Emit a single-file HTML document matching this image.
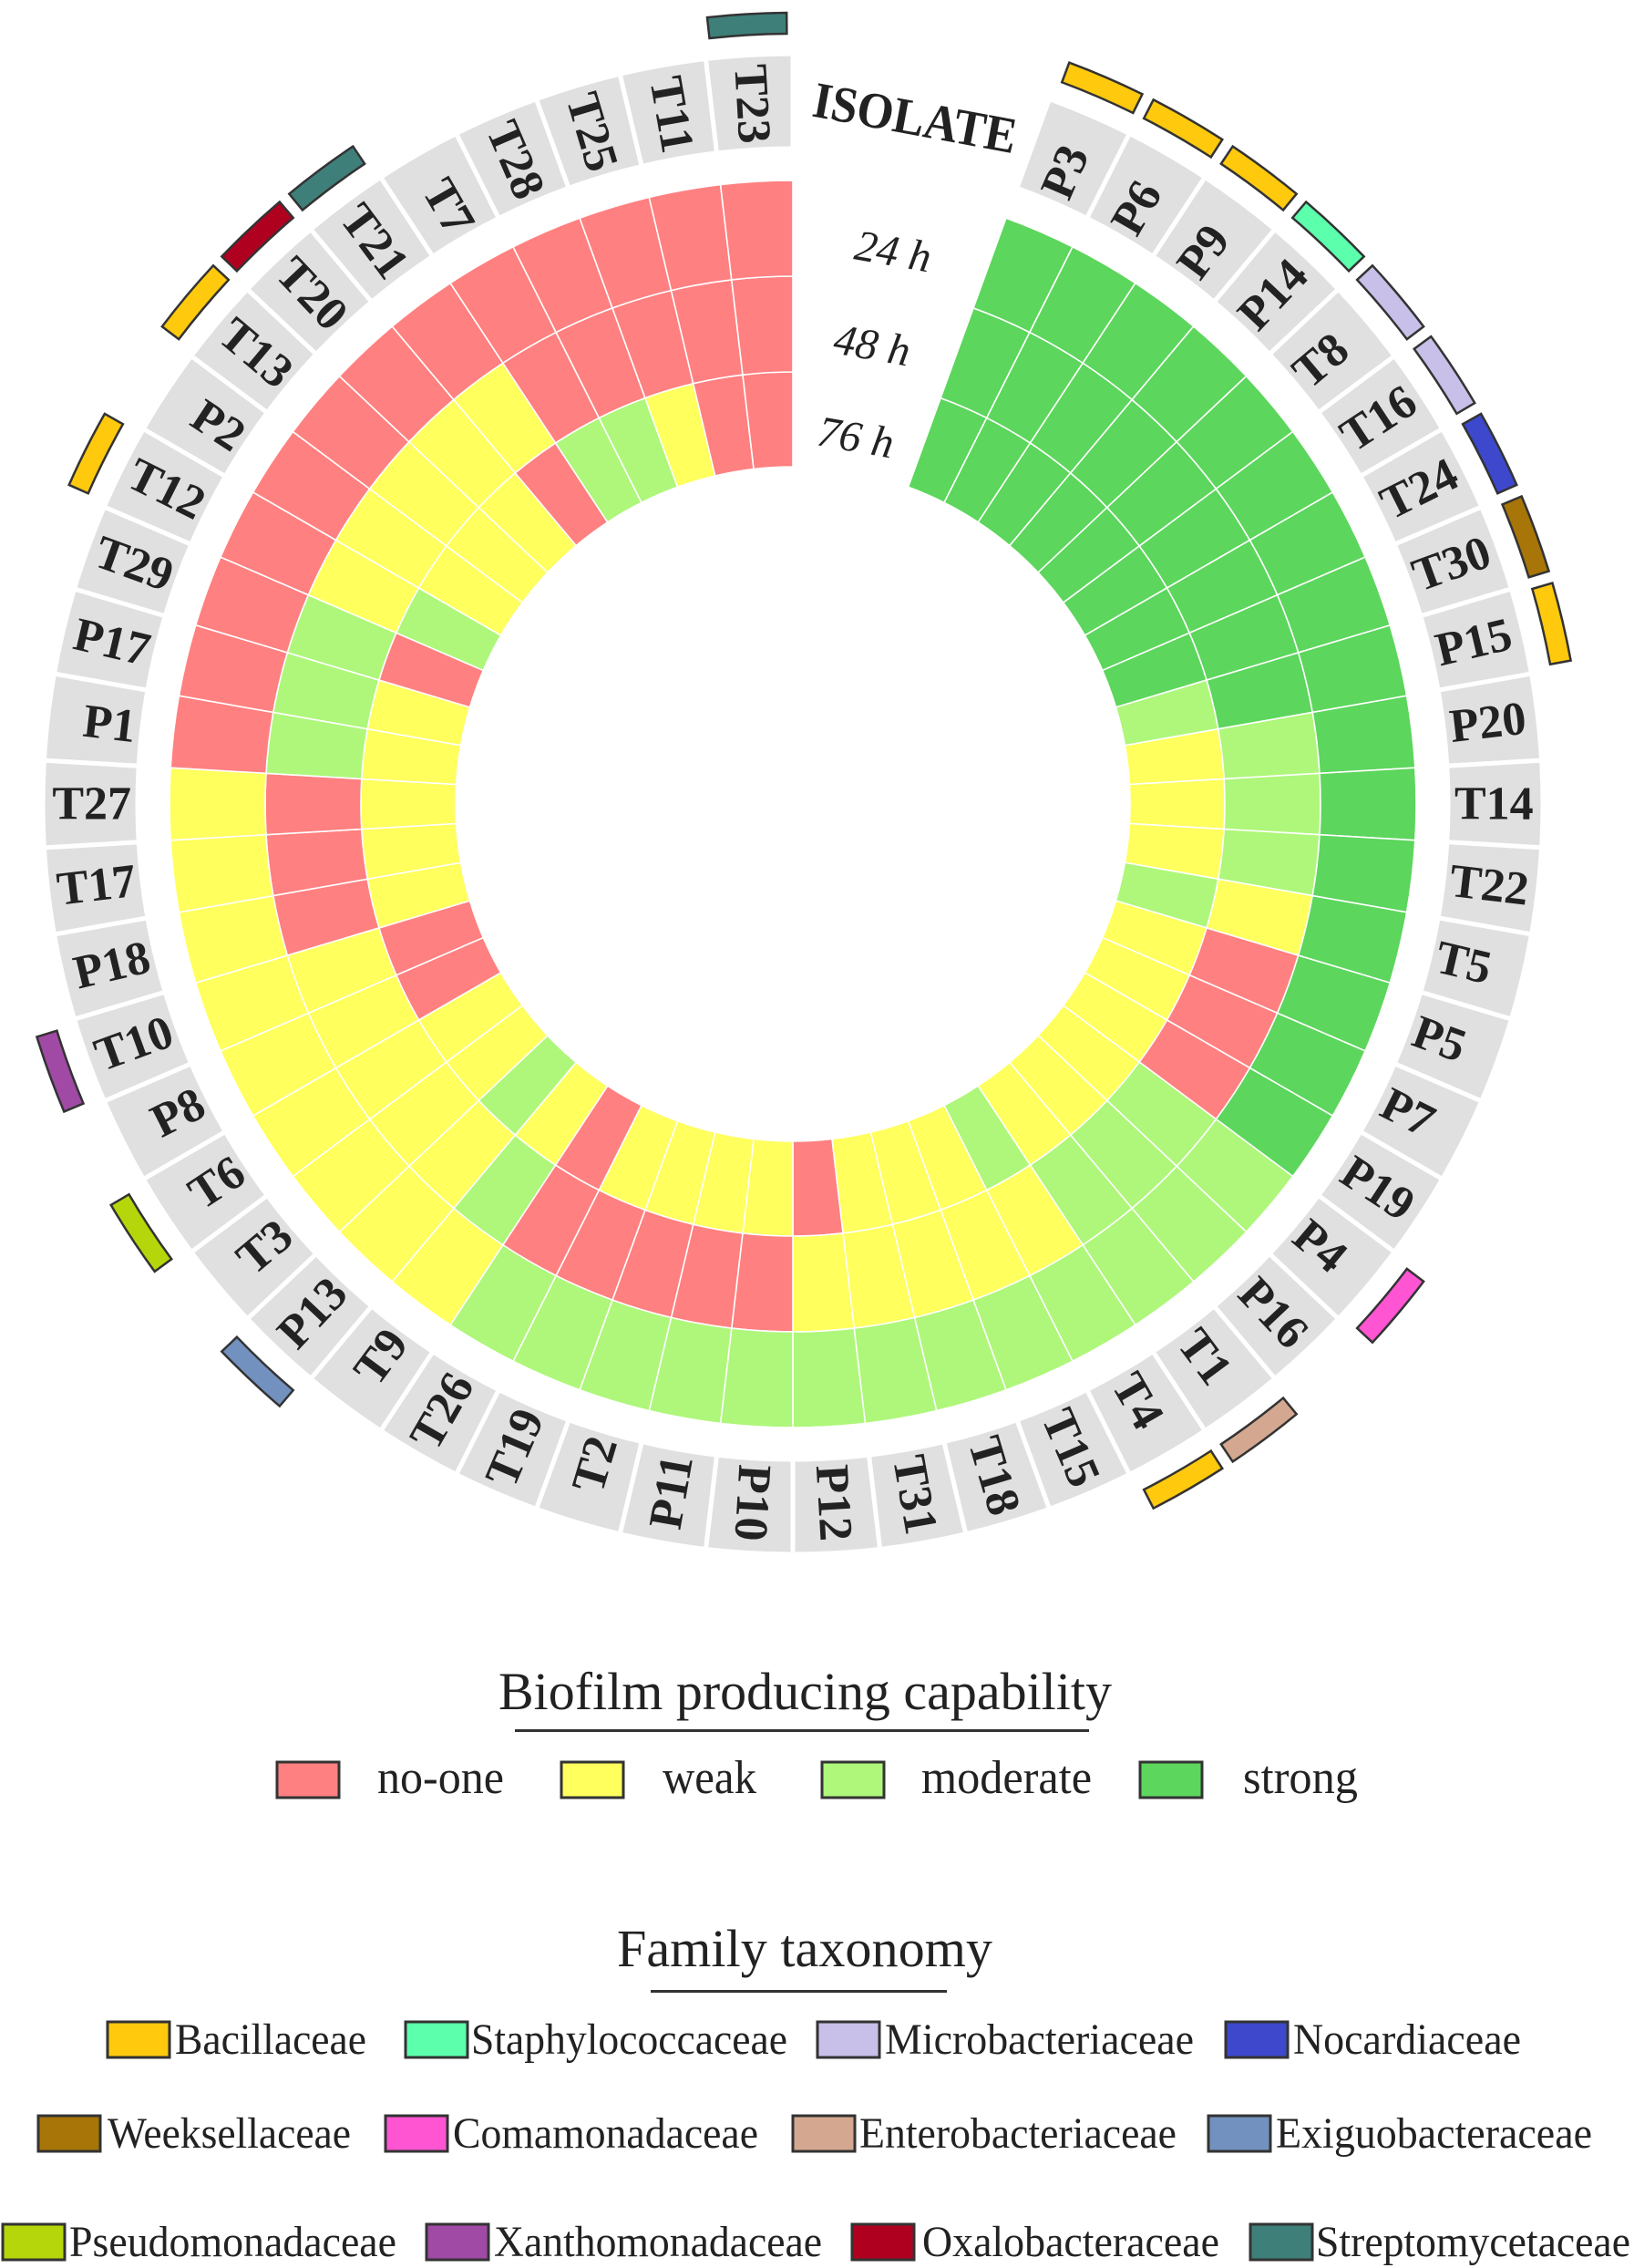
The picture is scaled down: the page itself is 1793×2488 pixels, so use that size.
<!DOCTYPE html>
<html><head><meta charset="utf-8"><style>
html,body{margin:0;padding:0;background:#fff}
svg{display:block}
text{font-family:"Liberation Serif",serif;fill:#222}
</style></head><body>
<svg id="chart" width="1793" height="2488" viewBox="0 0 1793 2488" xmlns="http://www.w3.org/2000/svg">
<g id="rings"></g>
<g id="labels"></g>
<g id="fams"></g>
<text x="1004" y="130" font-size="56" font-weight="bold" text-anchor="middle" dominant-baseline="central" textLength="226" lengthAdjust="spacingAndGlyphs" transform="rotate(10.5 1004 130)">ISOLATE</text>
<text x="980" y="276" font-size="48" font-style="italic" text-anchor="middle" dominant-baseline="central" transform="rotate(10 980 276)">24 h</text>
<text x="957" y="379" font-size="48" font-style="italic" text-anchor="middle" dominant-baseline="central" transform="rotate(10 957 379)">48 h</text>
<text x="939" y="480" font-size="48" font-style="italic" text-anchor="middle" dominant-baseline="central" transform="rotate(10 939 480)">76 h</text>

<g>
<text x="547" y="1875" font-size="58" textLength="673" lengthAdjust="spacingAndGlyphs">Biofilm producing capability</text>
<rect x="565" y="1897" width="630" height="3" fill="#333"/>
<g id="bioLegend"></g>
</g>
<g>
<text x="677" y="2157" font-size="58" textLength="412" lengthAdjust="spacingAndGlyphs">Family taxonomy</text>
<rect x="714" y="2183" width="325" height="3" fill="#333"/>
<g id="famLegend"></g>
</g>
</svg>
<script>
const isolates = ["P3","P6","P9","P14","T8","T16","T24","T30","P15","P20","T14","T22","T5","P5","P7","P19","P4","P16","T1","T4","T15","T18","T31","P12","P10","P11","T2","T19","T26","T9","P13","T3","T6","P8","T10","P18","T17","T27","P1","P17","T29","T12","P2","T13","T20","T21","T7","T28","T25","T11","T23"];
// 0 = no-one, 1 = weak, 2 = moderate, 3 = strong
const h24 = [3,3,3,3,3,3,3,3,3,3,3,3,3,3,3,3,2,2,2,2,2,2,2,2,2,2,2,2,2,1,1,1,1,1,1,1,1,1,0,0,0,0,0,0,0,0,0,0,0,0,0];
const h48 = [3,3,3,3,3,3,3,3,3,2,2,2,1,0,0,0,2,2,2,1,1,1,1,1,0,0,0,0,0,2,1,1,1,1,1,0,0,0,2,2,2,1,1,1,1,1,0,0,0,0,0];
const h76 = [3,3,3,3,3,3,3,3,2,1,1,1,2,1,1,1,1,1,1,2,1,1,1,0,1,1,1,1,0,1,2,1,1,0,0,1,1,1,1,1,0,2,1,1,1,0,2,2,1,0,0];
const familyOf = {"P3":0,"P6":0,"P9":0,"P14":1,"T8":2,"T16":2,"T24":3,"T30":4,"P15":0,"P4":5,"T1":6,"T4":0,"P13":7,"T6":8,"T10":9,"T12":0,"T13":0,"T20":10,"T21":11,"T23":11};
const levelNames = ["no-one","weak","moderate","strong"];
const levelColors = ["#FF8080","#FFFF5E","#AEF77A","#5CD65C"];
const familyNames = ["Bacillaceae","Staphylococcaceae","Microbacteriaceae","Nocardiaceae","Weeksellaceae","Comamonadaceae","Enterobacteriaceae","Exiguobacteraceae","Pseudomonadaceae","Xanthomonadaceae","Oxalobacteraceae","Streptomycetaceae"];
const familyColors = ["#FFC90E","#5CFFAC","#C8C0E8","#3D48CC","#A87508","#FF55D3","#D4A890","#7391BE","#B5D60A","#A04AA6","#B00020","#3F7F7A"];

const NS="http://www.w3.org/2000/svg";
const CX=870, CY=882;
const START=20, STEP=360/54;
const R=[370,474,579,684];
const LAB_IN=719, LAB_OUT=823, FAM_IN=845, FAM_OUT=868;
function ang(i){return START+i*STEP;}
function pt(a,r){const t=a*Math.PI/180;return [CX+r*Math.sin(t),CY-r*Math.cos(t)];}
function sector(a1,a2,r1,r2){
  const p1=pt(a1,r2),p2=pt(a2,r2),p3=pt(a2,r1),p4=pt(a1,r1);
  const lg=(a2-a1)>180?1:0;
  return `M${p1[0]},${p1[1]}A${r2},${r2} 0 ${lg} 1 ${p2[0]},${p2[1]}L${p3[0]},${p3[1]}A${r1},${r1} 0 ${lg} 0 ${p4[0]},${p4[1]}Z`;
}
function mk(tag,attrs,parent){const e=document.createElementNS(NS,tag);for(const k in attrs)e.setAttribute(k,attrs[k]);parent.appendChild(e);return e;}

const rings=document.getElementById('rings');
const series=[[h76,0],[h48,1],[h24,2]];
const seriesNames=["76h","48h","24h"];
series.forEach(([vals,ri],si)=>{
  vals.forEach((v,i)=>{
    const p=mk('path',{d:sector(ang(i),ang(i+1),R[ri],R[ri+1]),fill:levelColors[v],stroke:'#fff','stroke-width':'1.6'},rings);
    
    
  });
});

const labels=document.getElementById('labels');
isolates.forEach((name,i)=>{
  const b=mk('path',{d:sector(ang(i),ang(i+1),LAB_IN,LAB_OUT),fill:'#E0E0E0',stroke:'#fff','stroke-width':'5'},labels);
  
  
  const a=ang(i+0.5);
  const flip=a>186;
  const p=pt(a,726);
  const t=mk('text',{x:p[0],y:p[1],'font-size':'52','font-weight':'bold','dominant-baseline':'central','text-anchor':flip?'end':'start',transform:`rotate(${flip?a+90:a-90} ${p[0]} ${p[1]})`},labels);
  t.textContent=name;
  
  
});

const fams=document.getElementById('fams');
isolates.forEach((name,i)=>{
  if(!(name in familyOf))return;
  const f=familyOf[name];
  const e=mk('path',{d:sector(ang(i)+0.45,ang(i+1)-0.45,FAM_IN,FAM_OUT),fill:familyColors[f],stroke:'#333','stroke-width':'2.5'},fams);
  
  
});

const bioLegend=document.getElementById('bioLegend');
const bioBoxX=[304,616,902,1251], bioTextX=[414,727,1011,1364], bioTextW=[139,103,187,126];
levelNames.forEach((n,i)=>{
  const r=mk('rect',{x:bioBoxX[i],y:1933,width:68,height:39,fill:levelColors[i],stroke:'#333','stroke-width':'3'},bioLegend);
  
  
  const t=mk('text',{x:bioTextX[i],y:1967,'font-size':'52',textLength:bioTextW[i],lengthAdjust:'spacingAndGlyphs'},bioLegend);
  t.textContent=n;
  
  
});

const famLegend=document.getElementById('famLegend');
const famLayout=[[118,192,210,2218],[445,517,347,2218],[897,971,339,2218],[1345,1419,250,2218],
 [42,118,267,2321],[423,497,335,2321],[870,943,348,2321],[1326,1400,347,2321],
 [3,76,359,2440],[468,542,360,2440],[935,1012,326,2440],[1372,1444,345,2440]];
familyNames.forEach((n,i)=>{
  const L=famLayout[i];
  const r=mk('rect',{x:L[0],y:L[3],width:68,height:39,fill:familyColors[i],stroke:'#333','stroke-width':'3'},famLegend);
  
  
  const t=mk('text',{x:L[1],y:L[3]+35,'font-size':'48',textLength:L[2],lengthAdjust:'spacingAndGlyphs'},famLegend);
  t.textContent=n;
  
  
});
</script>
</body></html>
